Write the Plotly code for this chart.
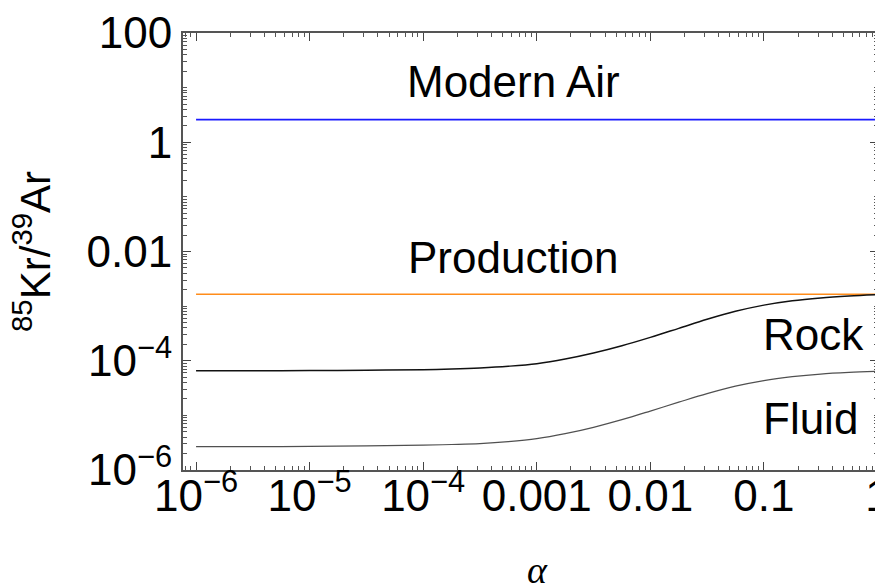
import math
import plotly.graph_objects as go

# ---- data ----
alpha = [1e-6, 3.16e-6, 1e-5, 3.16e-5, 1e-4, 1.78e-4, 3.16e-4, 5.62e-4, 1e-3, 1.78e-3,
         3.16e-3, 5.62e-3, 1e-2, 1.78e-2, 3.16e-2, 5.62e-2, 0.1, 0.178, 0.316, 0.562, 1.0]
rock = [6.56e-5, 6.56e-5, 6.61e-5, 6.70e-5, 6.84e-5, 7.05e-5, 7.38e-5, 7.93e-5, 8.85e-5, 1.074e-4,
        1.384e-4, 1.883e-4, 2.682e-4, 3.92e-4, 5.73e-4, 8.03e-4, 1.043e-3, 1.256e-3, 1.413e-3, 1.531e-3, 1.624e-3]
fluid = [2.67e-6, 2.68e-6, 2.705e-6, 2.763e-6, 2.846e-6, 2.93e-6, 3.045e-6, 3.30e-6, 3.744e-6, 4.62e-6,
         6.05e-6, 8.34e-6, 1.199e-5, 1.745e-5, 2.507e-5, 3.425e-5, 4.34e-5, 5.11e-5, 5.71e-5, 6.105e-5, 6.39e-5]
alpha_span = [1e-6, 1.0]
modern_air = [2.6, 2.6]
production = [1.65e-3, 1.65e-3]

x_tickvals = [1e-6, 1e-5, 1e-4, 1e-3, 1e-2, 1e-1, 1]
x_ticktext = ["10<sup>\u22126</sup>", "10<sup>\u22125</sup>", "10<sup>\u22124</sup>", "0.001", "0.01", "0.1", "1"]
y_tickvals = [1e2, 1, 1e-2, 1e-4, 1e-6]
y_ticktext = ["100", "1", "0.01", "10<sup>\u22124</sup>", "10<sup>\u22126</sup>"]

labels = ["Modern Air", "Production", "Rock", "Fluid"]
label_x = [10**-3.207, 10**-3.207, 10**-0.564, 10**-0.59]
label_y = [10**1.113, 10**-2.11, 10**-3.52, 10**-5.06]

FONT = "Liberation Sans, Arial, Helvetica, sans-serif"
FS = 44

fig = go.Figure()
fig.add_trace(go.Scatter(x=alpha_span, y=modern_air, mode="lines",
                         line=dict(color="#1a1aff", width=1.6), showlegend=False))
fig.add_trace(go.Scatter(x=alpha_span, y=production, mode="lines",
                         line=dict(color="#ff8c1a", width=1.6), showlegend=False))
fig.add_trace(go.Scatter(x=alpha, y=rock, mode="lines",
                         line=dict(color="#111111", width=1.5, shape="spline", smoothing=1.0),
                         showlegend=False))
fig.add_trace(go.Scatter(x=alpha, y=fluid, mode="lines",
                         line=dict(color="#505050", width=1.2, shape="spline", smoothing=1.0),
                         showlegend=False))

for t, lx, ly in zip(labels, label_x, label_y):
    fig.add_annotation(x=math.log10(lx), y=math.log10(ly), xref="x", yref="y", text=t,
                       showarrow=False, xanchor="center", yanchor="middle",
                       font=dict(family=FONT, size=FS, color="black"))

# axis titles as annotations in paper coordinates
fig.add_annotation(x=-0.218, y=0.50, xref="paper", yref="paper", textangle=-90,
                   xanchor="center", yanchor="middle",
                   text="<sup>85</sup>Kr/<sup>39</sup>Ar", showarrow=False,
                   font=dict(family=FONT, size=42, color="black"))
fig.add_annotation(x=0.51, y=-0.229, xref="paper", yref="paper",
                   xanchor="center", yanchor="middle",
                   text="<i>\u03b1</i>", showarrow=False,
                   font=dict(family="Liberation Serif, Times New Roman, serif", size=38, color="black"))

# the page body has an 8px margin, so the figure is sized to fit the window
fig.update_layout(
    width=875, height=575,
    margin=dict(l=175, r=5, t=25, b=113),
    plot_bgcolor="white", paper_bgcolor="white",
    font=dict(family=FONT, size=FS, color="black"),
)

fig.update_xaxes(
    type="log", range=[-6.115, 0.005], automargin=False,
    tickvals=x_tickvals, ticktext=x_ticktext, ticklabeloverflow="allow",
    ticklabelstandoff=-14,
    ticks="inside", ticklen=8, tickwidth=1, tickcolor="#444",
    showline=True, linecolor="#555", linewidth=1.5, mirror="allticks",
    showgrid=False, zeroline=False,
    tickfont=dict(family=FONT, size=FS, color="black"),
    minor=dict(ticks="inside", ticklen=4, tickcolor="#555", dtick="D1", showgrid=False),
)
fig.update_yaxes(
    type="log", range=[-6, 2], automargin=False,
    tickvals=y_tickvals, ticktext=y_ticktext, ticklabeloverflow="allow",
    ticks="inside", ticklen=8, tickwidth=1, tickcolor="#444",
    showline=True, linecolor="#555", linewidth=2, mirror="allticks",
    showgrid=False, zeroline=False,
    tickfont=dict(family=FONT, size=FS, color="black"),
    minor=dict(ticks="inside", ticklen=4, tickcolor="#555", dtick="D1", showgrid=False),
)

fig.write_html("out.html")
